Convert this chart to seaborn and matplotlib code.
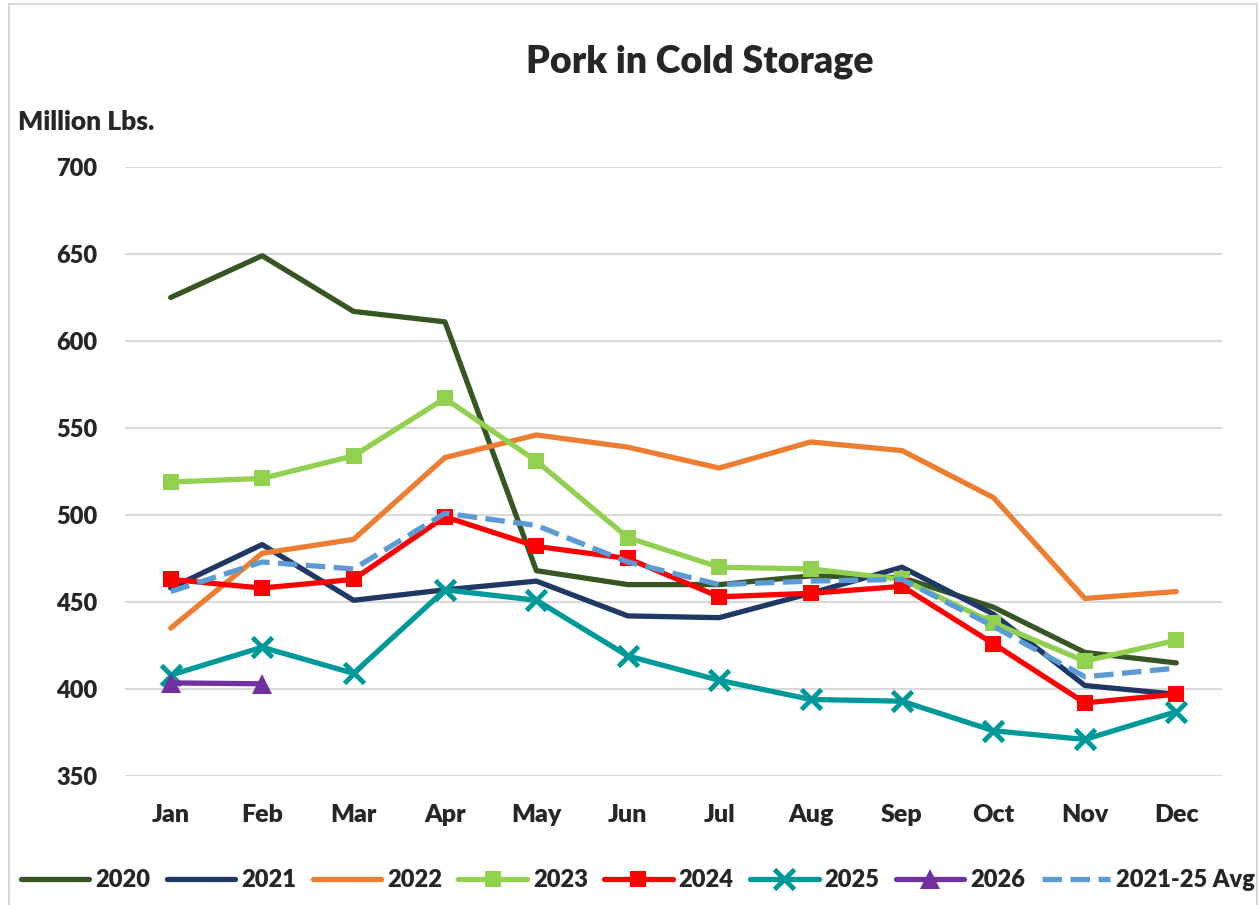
import matplotlib
matplotlib.use("Agg")
import matplotlib.pyplot as plt
import matplotlib.patches as mpatches
import seaborn as sns
import pandas as pd

# data (million lbs)
months = ['Jan', 'Feb', 'Mar', 'Apr', 'May', 'Jun', 'Jul', 'Aug', 'Sep', 'Oct', 'Nov', 'Dec']
y2020 = [625, 649, 617, 611, 468, 460, 460, 465, 464, 447, 421, 415]
y2021 = [458, 483, 451, 457, 462, 442, 441, 455, 470, 443, 402, 397]
y2022 = [435, 478, 486, 533, 546, 539, 527, 542, 537, 510, 452, 456]
y2023 = [519, 521, 534, 567, 531, 487, 470, 469, 463, 438, 416, 428]
y2024 = [463, 458, 463, 499, 482, 475, 453, 455, 459, 426, 392, 397]
y2025 = [408, 424, 409, 457, 451, 419, 405, 394, 393, 376, 371, 387]
y2026 = [403.5, 403]
avg_21_25 = [456, 473, 469, 501, 494, 473, 460, 462, 463, 436, 407, 412]

sns.set_theme(style="white")
plt.rcParams['font.family'] = ['Lato', 'DejaVu Sans']
W = 'heavy'

fig = plt.figure(figsize=(12.6, 9.05), dpi=100)
ax = fig.add_axes([125 / 1260, 1 - 776 / 905, (1222 - 125) / 1260, (776 - 167) / 905])

series = [
    ('2020', y2020, '#375623', None, '-', 0),
    ('2021', y2021, '#203864', None, '-', 0),
    ('2022', y2022, '#ED7D31', None, '-', 0),
    ('2023', y2023, '#92D050', 's', '-', 11),
    ('2024', y2024, '#FF0000', 's', '-', 11),
    ('2025', y2025, '#009999', 'x', '-', 15),
    ('2026', y2026, '#7030A0', '^', '-', 14),
    ('2021-25 Avg', avg_21_25, '#5B9BD5', None, '--', 0),
]

for label, vals, color, marker, ls, ms in series:
    df = pd.DataFrame({'x': range(len(vals)), 'y': vals})
    sns.lineplot(data=df, x='x', y='y', ax=ax, color=color, linewidth=3.8,
                 linestyle=ls, marker=marker, markersize=ms,
                 markeredgewidth=3.5 if marker == 'x' else 0,
                 markeredgecolor=color, label=label, legend=False)

ax.set_xlim(-0.5, 11.5)
ax.set_ylim(350, 700)
ax.set_yticks(range(350, 701, 50))
ax.set_xticks(range(12))
ax.set_xticklabels(months)
ax.yaxis.grid(True, color='#D9D9D9', linewidth=1.5)
ax.set_axisbelow(True)
for s in ax.spines.values():
    s.set_visible(False)
ax.tick_params(axis='x', length=0, labelsize=18, pad=20)
ax.tick_params(axis='y', length=0, labelsize=17, pad=20)
ax.set_xlabel('')
ax.set_ylabel('')
for t in ax.get_xticklabels() + ax.get_yticklabels():
    t.set_fontweight(W)

fig.text(700 / 1260, 1 - 62 / 905, 'Pork in Cold Storage', ha='center', va='center',
         fontsize=27, fontweight=W)
fig.text(18 / 1260, 1 - 122 / 905, 'Million Lbs.', ha='left', va='center',
         fontsize=19, fontweight=W)

handles, labels = ax.get_legend_handles_labels()
leg = fig.legend(handles, labels, loc='center', bbox_to_anchor=(638 / 1260, 1 - 880 / 905),
                 ncol=8, frameon=False, fontsize=17, handlelength=2.9,
                 handletextpad=0.25, columnspacing=0.7, borderaxespad=0)
for t in leg.get_texts():
    t.set_fontweight(W)

# chart area border
fig.patches.append(mpatches.Rectangle((9 / 1260, -0.01), (1257 - 9) / 1260, 1 - 4 / 905 + 0.01,
                                      transform=fig.transFigure, fill=False,
                                      edgecolor='#D9D9D9', linewidth=1.5))

fig.savefig('out.png', dpi=100)
